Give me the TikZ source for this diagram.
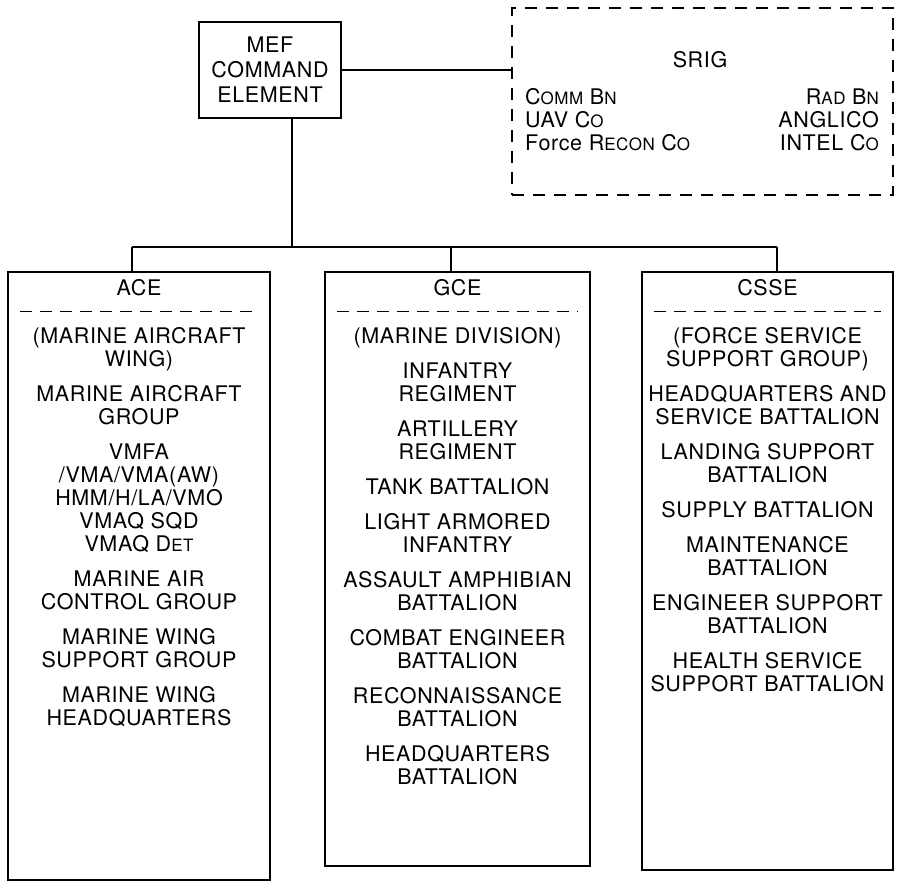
\documentclass[tikz,border=0pt]{standalone}
\usepackage{fontspec}
\setmainfont[LetterSpace=3]{TeX Gyre Heros}
\usetikzlibrary{calc}
\newcommand\fsc[1]{{\fontsize{17}{17}\selectfont #1}}
\begin{document}
\begin{tikzpicture}[x=1pt,y=-1pt,
  box/.style={draw, rectangle, inner sep=0pt, line width=1.5pt},
  dbox/.style={draw, rectangle, inner sep=0pt, line width=1.3pt, dash pattern=on 12pt off 9pt},
  body/.style={align=center, inner sep=0pt, font=\fontsize{21.5}{23}\selectfont},
  conn/.style={line width=1.5pt},
  sep/.style={line width=1.2pt, dash pattern=on 12pt off 8pt}]
\useasboundingbox (0,0) rectangle (898,885);
% top
\node[box, minimum width=142pt, minimum height=96pt] (mef) at (270,70) {};
\node[body] (meftxt) at (mef.center) {MEF\\[2pt]COMMAND\\[2pt]ELEMENT};
\node[dbox, minimum width=381pt, minimum height=187pt] (srig) at (702.5,101.5) {};
\node[body] (srigt) at (700,60) {SRIG};
\node[body, anchor=west, align=left] (srigl) at (525,120) {C\fsc{OMM} B\fsc{N}\\UAV C\fsc{O}\\Force R\fsc{ECON} C\fsc{O}};
\node[body, anchor=east, align=right] (srigr) at (879,120) {R\fsc{AD} B\fsc{N}\\ANGLICO\\INTEL C\fsc{O}};
% columns
\node[box, minimum width=262pt, minimum height=608pt] (ace) at (139,576) {};
\node[box, minimum width=265pt, minimum height=594pt] (gce) at (457.5,569) {};
\node[box, minimum width=251pt, minimum height=598pt] (csse) at (767.5,571) {};
% connectors
\coordinate (j) at (292,247);
\coordinate (ja) at (132,247);
\coordinate (jg) at (451,247);
\coordinate (jc) at (777,247);
\draw[conn] (mef.east) -- (mef.east -| srig.west);
\draw[conn] (mef.south -| j) -- (j);
\draw[conn] (ja) -- (jc);
\draw[conn] (ja) -- (ja |- ace.north);
\draw[conn] (jg) -- (jg |- gce.north);
\draw[conn] (jc) -- (jc |- csse.north);
% headers
\node[body, anchor=base] (acehd) at (ace.north |- 0,296) {ACE};
\node[body, anchor=base] (gcehd) at (gce.north |- 0,296) {GCE};
\node[body, anchor=base] (cssehd) at (csse.north |- 0,296) {CSSE};
\draw[sep] ($(ace.north west)+(13,40)$) -- ($(ace.north east)+(-13,40)$);
\draw[sep] ($(gce.north west)+(13,40)$) -- ($(gce.north east)+(-13,40)$);
\draw[sep] ($(csse.north west)+(13,40)$) -- ($(csse.north east)+(-13,40)$);
% bodies
\node[body, anchor=north] (acebody) at ($(ace.north)+(0,56)$) {(MARINE AIRCRAFT\\WING)\\[12pt]
MARINE AIRCRAFT\\GROUP\\[12pt]
VMFA\\/VMA/VMA(AW)\\HMM/H/LA/VMO\\VMAQ SQD\\VMAQ D\fsc{ET}\\[12pt]
MARINE AIR\\CONTROL GROUP\\[12pt]
MARINE WING\\SUPPORT GROUP\\[12pt]
MARINE WING\\HEADQUARTERS};
\node[body, anchor=north] (gcebody) at ($(gce.north)+(0,56)$) {(MARINE DIVISION)\\[12pt]
INFANTRY\\REGIMENT\\[12pt]
ARTILLERY\\REGIMENT\\[12pt]
TANK BATTALION\\[12pt]
LIGHT ARMORED\\INFANTRY\\[12pt]
ASSAULT AMPHIBIAN\\BATTALION\\[12pt]
COMBAT ENGINEER\\BATTALION\\[12pt]
RECONNAISSANCE\\BATTALION\\[12pt]
HEADQUARTERS\\BATTALION};
\node[body, anchor=north] (cssebody) at ($(csse.north)+(0,56)$) {(FORCE SERVICE\\SUPPORT GROUP)\\[12pt]
HEADQUARTERS AND\\SERVICE BATTALION\\[12pt]
LANDING SUPPORT\\BATTALION\\[12pt]
SUPPLY BATTALION\\[12pt]
MAINTENANCE\\BATTALION\\[12pt]
ENGINEER SUPPORT\\BATTALION\\[12pt]
HEALTH SERVICE\\SUPPORT BATTALION};
\end{tikzpicture}
\end{document}
